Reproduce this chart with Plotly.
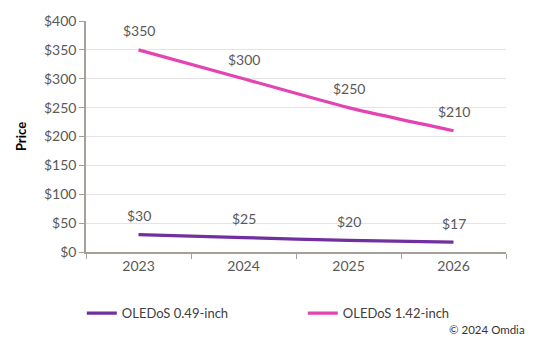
import plotly.graph_objects as go

years = ["2023", "2024", "2025", "2026"]
small_prices = [30, 25, 20, 17]
large_prices = [350, 300, 250, 210]
series_names = ["OLEDoS 0.49-inch", "OLEDoS 1.42-inch"]
series_colors = ["#7030A0", "#E444B3"]

FONT = "Lato, 'Liberation Sans', sans-serif"
TXT = "#595959"

fig = go.Figure()
for name, vals, col in zip(series_names, [small_prices, large_prices], series_colors):
    fig.add_trace(go.Scatter(
        x=years, y=vals, name=name, mode="lines",
        line=dict(color=col, width=3.2, shape="spline", smoothing=0.6),
    ))
    # value labels above each point (category index positions)
    for i, v in enumerate(vals):
        fig.add_annotation(x=i, y=v, text=f"${v}", showarrow=False, yshift=19,
                           font=dict(family=FONT, size=14, color=TXT))

fig.add_annotation(xref="paper", yref="paper", x=1.05, y=-0.335, xanchor="right",
                   yanchor="middle", text="© 2024 Omdia", showarrow=False,
                   font=dict(family=FONT, size=11.5, color="#333333"))

fig.update_layout(
    width=554, height=340,
    margin=dict(l=86, r=48, t=14, b=88),
    paper_bgcolor="white", plot_bgcolor="white",
    font=dict(family=FONT, size=13, color=TXT),
    showlegend=True,
    legend=dict(orientation="h", x=-0.01, y=-0.2, xanchor="left", yanchor="top",
                entrywidth=176, entrywidthmode="pixels",
                font=dict(family=FONT, size=13, color="#404040"),
                itemwidth=30),
    xaxis=dict(type="category", range=[-0.5, 3.5], showgrid=False,
               showline=True, linecolor="#A6A09A", linewidth=1.5,
               ticks="outside", tickson="boundaries", ticklen=5, tickcolor="#A6A09A",
               tickfont=dict(family=FONT, size=14, color=TXT)),
    yaxis=dict(range=[0, 400], dtick=50, tickprefix="$", showgrid=True,
               gridcolor="#E4E4E4", gridwidth=1, zeroline=False,
               showline=True, linecolor="#A6A09A", linewidth=1.5,
               ticks="outside", ticklen=5, tickcolor="#A6A09A",
               tickfont=dict(family=FONT, size=14, color=TXT),
               title=dict(text="<b>Price</b>", font=dict(family=FONT, size=13, color="#000000"),
                          standoff=14)),
)

fig.write_html("out.html")
